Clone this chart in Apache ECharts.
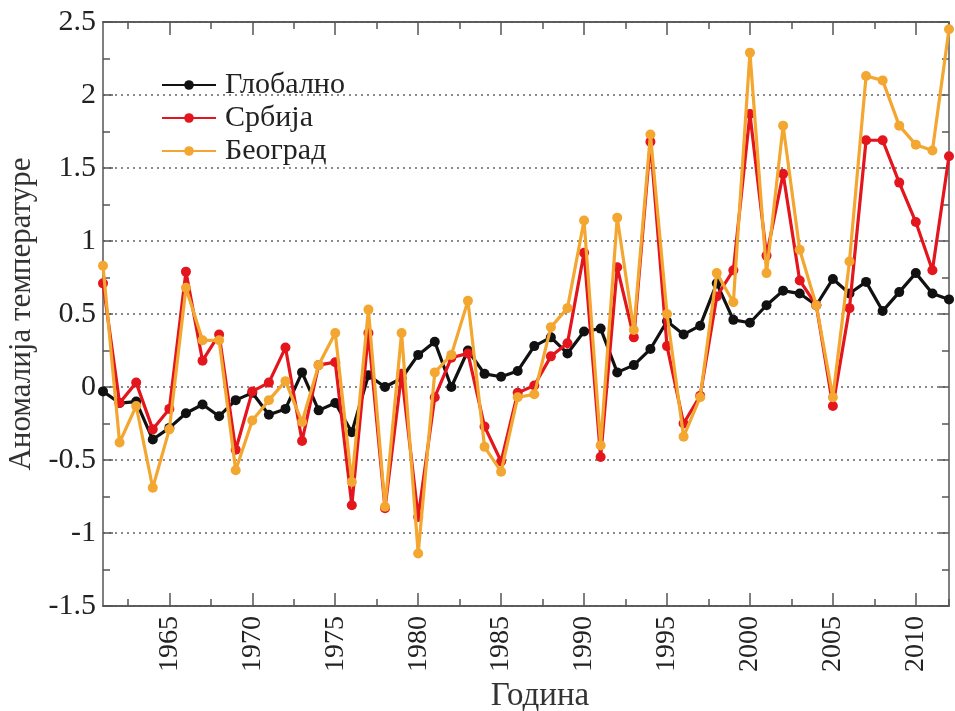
<!DOCTYPE html>
<html>
<head>
<meta charset="utf-8">
<script src="https://cdn.jsdelivr.net/npm/echarts@6/dist/echarts.min.js"></script>
<style>
html,body{margin:0;padding:0;background:#fff;}
#chart{width:955px;height:711px;}
</style>
</head>
<body>
<div id="chart"></div>
<script>
const years = [];
for (let y = 1961; y <= 2012; y++) years.push(y);

const seriesNames = ['Глобално', 'Србија', 'Београд'];

const globalValues = [
  -0.03, -0.11, -0.10, -0.36, -0.28, -0.18, -0.12, -0.20, -0.09, -0.04,
  -0.19, -0.15, 0.10, -0.16, -0.11, -0.31, 0.08, 0.00, 0.06, 0.22,
  0.31, 0.00, 0.25, 0.09, 0.07, 0.11, 0.28, 0.34, 0.23, 0.38,
  0.40, 0.10, 0.15, 0.26, 0.45, 0.36, 0.42, 0.71, 0.46, 0.44,
  0.56, 0.66, 0.64, 0.56, 0.74, 0.64, 0.72, 0.52, 0.65, 0.78,
  0.64, 0.60
];

const serbiaValues = [
  0.71, -0.11, 0.03, -0.29, -0.15, 0.79, 0.18, 0.36, -0.43, -0.03,
  0.03, 0.27, -0.37, 0.15, 0.17, -0.81, 0.37, -0.83, 0.09, -0.89,
  -0.07, 0.20, 0.23, -0.27, -0.51, -0.04, 0.01, 0.21, 0.30, 0.92,
  -0.48, 0.82, 0.34, 1.68, 0.28, -0.25, -0.06, 0.62, 0.80, 1.87,
  0.90, 1.46, 0.73, 0.56, -0.13, 0.54, 1.69, 1.69, 1.40, 1.13,
  0.80, 1.58
];

const belgradeValues = [
  0.83, -0.38, -0.13, -0.69, -0.29, 0.68, 0.32, 0.32, -0.57, -0.23,
  -0.09, 0.04, -0.24, 0.15, 0.37, -0.65, 0.53, -0.82, 0.37, -1.14,
  0.10, 0.22, 0.59, -0.41, -0.58, -0.07, -0.05, 0.41, 0.54, 1.14,
  -0.40, 1.16, 0.39, 1.73, 0.50, -0.34, -0.07, 0.78, 0.58, 2.29,
  0.78, 1.79, 0.94, 0.56, -0.07, 0.86, 2.13, 2.10, 1.79, 1.66,
  1.62, 2.45
];

const xMajorTicks = [1965, 1970, 1975, 1980, 1985, 1990, 1995, 2000, 2005, 2010];
const xMinorTicks = [1962.5, 1967.5, 1972.5, 1977.5, 1982.5, 1987.5, 1992.5, 1997.5, 2002.5, 2007.5, 2012];

const FONT = '"Liberation Serif", "DejaVu Serif", serif';
const AXIS_COLOR = '#555';
const colors = ['#111111', '#e3151d', '#f3a630'];

const pair = (vals) => years.map((y, i) => [y, vals[i]]);

function xAx(pos, ticks, len, labels, extra) {
  return Object.assign({
    type: 'value', position: pos, min: 1961, max: 2012,
    axisLine: { show: true, onZero: false, lineStyle: { color: AXIS_COLOR, width: 1.5 } },
    axisTick: { show: true, inside: true, length: len, customValues: ticks, lineStyle: { color: AXIS_COLOR, width: 1.5 } },
    axisLabel: labels ? {
      show: true, customValues: xMajorTicks, rotate: 90, fontSize: 28, fontFamily: FONT,
      color: '#222', margin: 10, padding: [12, 0, 0, 0], formatter: (v) => String(v)
    } : { show: false },
    splitLine: { show: false }
  }, extra || {});
}

function yAx(pos, labels, extra) {
  return Object.assign({
    type: 'value', position: pos, min: -1.5, max: 2.5, interval: 0.5,
    axisLine: { show: true, onZero: false, lineStyle: { color: AXIS_COLOR, width: 1.5 } },
    axisTick: { show: true, inside: true, length: 10, lineStyle: { color: AXIS_COLOR, width: 1.5 } },
    minorTick: { show: true, splitNumber: 2, length: 7, lineStyle: { color: AXIS_COLOR, width: 1.5 } },
    axisLabel: labels ? {
      show: true, fontSize: 30, fontFamily: FONT, color: '#222', margin: 7,
      formatter: (v) => String(Math.round(v * 10) / 10)
    } : { show: false },
    splitLine: labels ? { show: true, lineStyle: { color: '#8a8a8a', width: 2, type: [2, 4] } } : { show: false }
  }, extra || {});
}

const chart = echarts.init(document.getElementById('chart'), null, { renderer: 'canvas' });

const mkSeries = (name, vals, color, z) => ({
  name: name, type: 'line', xAxisIndex: 0, yAxisIndex: 0,
  data: pair(vals), symbol: 'circle', symbolSize: 10, showSymbol: true,
  lineStyle: { color: color, width: 3.2 }, itemStyle: { color: color },
  z: z, animation: false
});

chart.setOption({
  backgroundColor: '#fff',
  animation: false,
  grid: { left: 103, right: 6, top: 22, bottom: 105, containLabel: false, outerBoundsMode: 'none' },
  legend: {
    data: seriesNames, orient: 'vertical', left: 156, top: 65,
    itemWidth: 54, itemHeight: 12, itemGap: 3,
    textStyle: { fontFamily: FONT, fontSize: 30, color: '#222', padding: [0, 0, 0, 4] }
  },
  xAxis: [
    xAx('bottom', xMajorTicks, 13, true, {
      name: 'Година', nameLocation: 'middle', nameGap: 61,
      nameTextStyle: { fontFamily: FONT, fontSize: 33, color: '#333', padding: [0, 0, 0, 28] }
    }),
    xAx('bottom', xMinorTicks, 7, false),
    xAx('top', xMajorTicks, 13, false),
    xAx('top', xMinorTicks, 7, false)
  ],
  yAxis: [
    yAx('left', true, {
      name: 'Аномалија температуре', nameLocation: 'middle', nameGap: 48,
      nameTextStyle: { fontFamily: FONT, fontSize: 31, color: '#333' }
    }),
    yAx('right', false)
  ],
  series: [
    mkSeries(seriesNames[0], globalValues, colors[0], 3),
    mkSeries(seriesNames[1], serbiaValues, colors[1], 4),
    mkSeries(seriesNames[2], belgradeValues, colors[2], 5)
  ]
});
</script>
</body>
</html>
